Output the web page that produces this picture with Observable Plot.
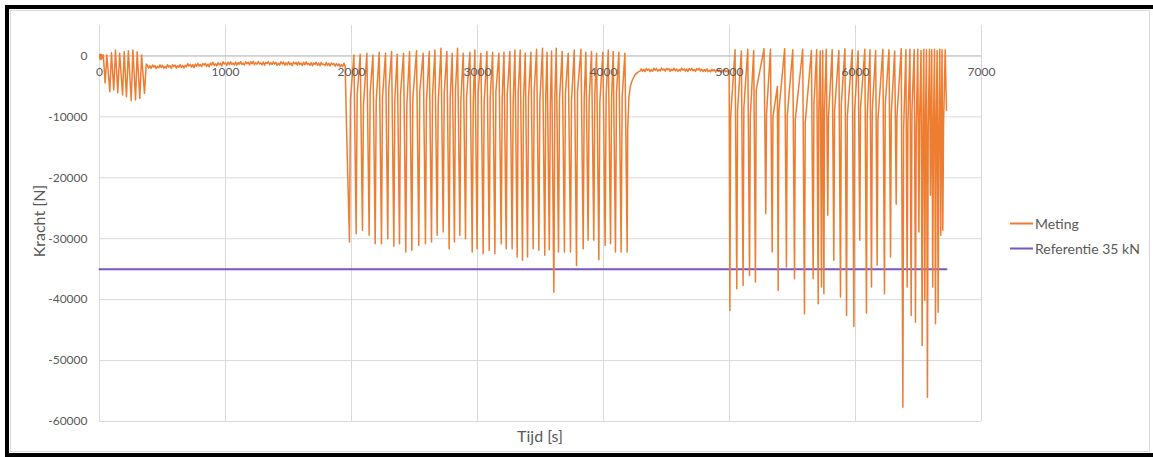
<!DOCTYPE html>
<html>
<head>
<meta charset="utf-8">
<script src="https://cdn.jsdelivr.net/npm/d3@7"></script>
<script src="https://cdn.jsdelivr.net/npm/@observablehq/plot@0.6"></script>
<style>
  html, body { margin: 0; padding: 0; background: #fff; }
  #frame { position: relative; width: 1153px; height: 457px; overflow: hidden; background: #fff;
           font-family: Lato, "Open Sans", sans-serif; color: #595959; }
  .edge { position: absolute; background: #000; }
  #area { position: absolute; left: 10px; top: 10px; width: 1140px; height: 442px;
          border: 1px solid #d9d9d9; box-sizing: border-box; }
  #chart { position: absolute; left: 0; top: 0; }
  .axis-title { position: absolute; font-size: 16px; white-space: nowrap; transform: translate(-50%, -50%); }
  .legend-item { position: absolute; left: 1010px; font-size: 14px; white-space: nowrap; transform: translateY(-50%);
                 display: flex; align-items: center; }
  .legend-item .swatch { width: 23px; height: 2px; margin-right: 2px; }
</style>
</head>
<body>
<div id="frame">
  <div id="area"></div>
  <div class="edge" style="left:5px; top:5px; width:1148px; height:4px;"></div>
  <div class="edge" style="left:5px; top:5px; width:4px; height:452px;"></div>
  <div class="edge" style="left:5px; top:453px; width:1148px; height:4px;"></div>
</div>
<script>
// Axis ticks
const timeTicks = [0, 1000, 2000, 3000, 4000, 5000, 6000, 7000];
const forceTicks = [0, -10000, -20000, -30000, -40000, -50000, -60000];

// Reference level (35 kN compression) over the test duration
const referenceT = [0, 6722];
const referenceF = [-35000, -35000];

// Warm-up cycles, 0–370 s
const warmupT = [0, 4, 8, 12, 16, 20, 25, 30, 45, 58, 82, 95, 113, 127, 145, 160, 183, 196, 214, 229, 252, 265, 286, 299, 320, 334, 357, 371];
const warmupF = [200, -500, 300, -600, 200, -400, 100, 160, -4450, 160, -5870, 540, -5600, 990, -6030, 440, -6400, 710, -6690, 870, -7350, 990, -7240, 710, -6960, 160, -6140, -1300];

// First rest period, 10 s samples [t, F]
const restA = [
  [380,-1540],[390,-2010],[400,-1630],[410,-2060],[420,-1470],[430,-1840],[440,-1580],[450,-2080],[460,-1690],[470,-1950],
  [480,-1450],[490,-1900],[500,-1520],[510,-2030],[520,-1730],[530,-1990],[540,-1430],[550,-1860],[560,-1600],[570,-2040],
  [580,-1430],[590,-1720],[600,-1490],[610,-2000],[620,-1590],[630,-1860],[640,-1410],[650,-1910],[660,-1550],[670,-1980],
  [680,-1540],[690,-1790],[700,-1270],[710,-1650],[720,-1380],[730,-1840],[740,-1420],[750,-1920],[760,-1340],[770,-1700],
  [780,-1190],[790,-1660],[800,-1390],[810,-1770],[820,-1250],[830,-1500],[840,-1210],[850,-1720],[860,-1360],[870,-1790],
  [880,-1170],[890,-1490],[900,-1020],[910,-1570],[920,-1300],[930,-1630],[940,-1110],[950,-1450],[960,-1180],[970,-1660],
  [980,-960],[990,-1310],[1000,-1110],[1010,-1520],[1020,-1020],[1030,-1440],[1040,-940],[1050,-1380],[1060,-1180],[1070,-1490],
  [1080,-1000],[1090,-1530],[1100,-1080],[1110,-1360],[1120,-930],[1130,-1410],[1140,-1170],[1150,-1490],[1160,-950],[1170,-1280],
  [1180,-1020],[1190,-1480],[1200,-950],[1210,-1290],[1220,-860],[1230,-1430],[1240,-1090],[1250,-1360],[1260,-900],[1270,-1320],
  [1280,-1140],[1290,-1470],[1300,-990],[1310,-1520],[1320,-1050],[1330,-1240],[1340,-900],[1350,-1430],[1360,-1080],[1370,-1400],
  [1380,-970],[1390,-1350],[1400,-1050],[1410,-1540],[1420,-1190],[1430,-1490],[1440,-940],[1450,-1320],[1460,-1010],[1470,-1510],
  [1480,-1120],[1490,-1470],[1500,-940],[1510,-1420],[1520,-1170],[1530,-1580],[1540,-1010],[1550,-1310],[1560,-1060],[1570,-1500],
  [1580,-1000],[1590,-1420],[1600,-1170],[1610,-1560],[1620,-1040],[1630,-1470],[1640,-950],[1650,-1380],[1660,-1220],[1670,-1530],
  [1680,-1090],[1690,-1620],[1700,-1140],[1710,-1380],[1720,-1020],[1730,-1540],[1740,-1180],[1750,-1600],[1760,-1050],[1770,-1430],
  [1780,-1340],[1790,-1580],[1800,-1070],[1810,-1560],[1820,-1200],[1830,-1640],[1840,-1150],[1850,-1420],[1860,-1230],[1870,-1680],
  [1880,-1240],[1890,-1600],[1900,-1300],[1910,-1780],[1920,-1410],[1930,-1730],[1940,-1190],[1950,-1660]
];

// First loading block, one row per cycle: [tPeak, FPeak, tMin, FMin, tKnee, FKnee]
const loadA = [
  [1962,-13000,1984,-30540,1992,-7000],
  [2019,164,2037,-29170,2045,-6500],
  [2069,300,2087,-28620,2095,-8000],
  [2122,440,2140,-29440,2148,-6000],
  [2170,164,2188,-30810,2196,-7500],
  [2220,600,2238,-30810,2246,-6800],
  [2270,440,2288,-29990,2296,-5500],
  [2318,713,2336,-31250,2344,-7200],
  [2363,300,2381,-30810,2389,-6300],
  [2413,440,2431,-32180,2439,-8200],
  [2461,713,2479,-31910,2487,-6900],
  [2516,850,2534,-31090,2542,-5800],
  [2569,440,2587,-30810,2595,-7400],
  [2617,713,2635,-30540,2643,-6600],
  [2662,987,2680,-29440,2688,-7800],
  [2710,1260,2728,-28890,2736,-6100],
  [2757,713,2775,-31630,2783,-7000],
  [2799,440,2817,-30540,2825,-5600],
  [2842,1260,2860,-29440,2868,-7300],
  [2887,440,2905,-29990,2913,-6700],
  [2940,600,2958,-32180,2966,-8100],
  [2979,987,2997,-31630,3005,-6200],
  [3027,440,3045,-32460,3053,-7600],
  [3075,713,3093,-31910,3101,-6900],
  [3120,600,3138,-32460,3146,-5900],
  [3170,440,3188,-30810,3196,-7100],
  [3210,600,3228,-31630,3236,-6400],
  [3257,713,3275,-31630,3283,-7700],
  [3297,987,3315,-33000,3323,-6000],
  [3339,987,3357,-33550,3365,-7200],
  [3379,440,3397,-33000,3405,-6800],
  [3424,600,3442,-31630,3450,-5700],
  [3469,1100,3487,-31910,3495,-7500],
  [3516,1260,3534,-32730,3542,-6300],
  [3552,600,3570,-31800,3578,-7900],
  [3588,800,3606,-38800,3614,-6600],
  [3625,1260,3643,-32180,3651,-7000],
  [3672,713,3690,-32180,3698,-6100],
  [3720,440,3738,-32180,3746,-7400],
  [3768,987,3786,-34380,3794,-5800],
  [3821,1100,3839,-31630,3847,-6900],
  [3860,600,3878,-30260,3886,-7300],
  [3905,713,3923,-30260,3931,-6200],
  [3945,440,3963,-33440,3971,-7600],
  [3995,600,4013,-31090,4021,-6500],
  [4038,987,4056,-30810,4064,-7100],
  [4077,713,4095,-32180,4103,-6000],
  [4122,600,4140,-32180,4148,-6800],
  [4170,440,4188,-32180,4192,-12000]
];

// Recovery and second rest period [t, F]
const restB = [
  [4202,-6700],[4215,-4800],[4230,-3900],[4250,-3100],[4270,-2700],[4290,-2500],
  [4300,-2120],[4310,-2530],[4320,-2210],[4330,-2570],[4340,-2050],[4350,-2360],[4360,-2150],[4370,-2580],[4380,-2260],[4390,-2490],
  [4400,-1990],[4410,-2380],[4420,-2050],[4430,-2500],[4440,-2240],[4450,-2460],[4460,-1970],[4470,-2340],[4480,-2130],[4490,-2510],
  [4500,-2030],[4510,-2280],[4520,-2090],[4530,-2530],[4540,-2180],[4550,-2400],[4560,-2010],[4570,-2450],[4580,-2140],[4590,-2520],
  [4600,-2240],[4610,-2450],[4620,-2000],[4630,-2330],[4640,-2100],[4650,-2500],[4660,-2130],[4670,-2560],[4680,-2060],[4690,-2370],
  [4700,-2030],[4710,-2430],[4720,-2210],[4730,-2530],[4740,-2080],[4750,-2290],[4760,-2040],[4770,-2490],[4780,-2180],[4790,-2550],
  [4800,-2230],[4810,-2500],[4820,-2100],[4830,-2570],[4840,-2340],[4850,-2620],[4860,-2170],[4870,-2460],[4880,-2240],[4890,-2650],
  [4900,-2230],[4910,-2530],[4920,-2360],[4930,-2710],[4940,-2280],[4950,-2640],[4960,-2210],[4970,-2590],[4980,-2420],[4990,-2680]
];

// Second loading block: [tPeak, FPeak, tMin, FMin, tKnee, FKnee]
const loadB = [
  [4997,-2300,5003,-41780,5009,-10000],
  [5044,1000,5058,-38210,5064,-9000],
  [5094,800,5108,-37660,5114,-8500],
  [5145,1100,5159,-36020,5165,-10000],
  [5192,900,5206,-37120,5212,-5600],
  [5274,1200,5288,-25880,5294,-9500],
  [5325,1100,5339,-32180,5345,-10000],
  [5380,-5000,5386,-38490,5392,-9000],
  [5438,1200,5452,-34650,5458,-10000],
  [5502,1000,5516,-36570,5522,-10500],
  [5581,1100,5595,-42320,5601,-11000],
  [5650,900,5664,-36570,5670,-8000],
  [5692,1000,5704,-40680,5709,-9000],
  [5720,800,5730,-37940,5735,-10000],
  [5740,900,5749,-39040,5754,-9000],
  [5768,1100,5780,-26150,5786,-10000],
  [5815,1000,5828,-33550,5834,-9000],
  [5868,900,5881,-39580,5887,-8000],
  [5916,1200,5929,-42600,5935,-10000],
  [5974,1000,5987,-44410,5993,-9000],
  [6021,800,6034,-30260,6040,-8500],
  [6074,1100,6087,-42210,6093,-10000],
  [6115,1000,6127,-37940,6133,-9000],
  [6160,900,6172,-34300,6178,-10500],
  [6217,1100,6230,-39030,6236,-8000],
  [6266,1000,6278,-33000,6284,-9500],
  [6311,800,6323,-24340,6329,-10000],
  [6363,1200,6376,-57680,6382,-12000],
  [6400,1000,6410,-37940,6416,-11000],
  [6432,1100,6442,-42600,6448,-9000],
  [6466,1000,6476,-43700,6482,-12000],
  [6494,1100,6503,-28890,6509,-10000],
  [6520,900,6529,-47530,6535,-11000],
  [6542,1100,6550,-40130,6556,-9500],
  [6563,1000,6571,-56030,6577,-12000],
  [6587,1100,6595,-22860,6601,-9000],
  [6605,1000,6613,-37940,6619,-11000],
  [6627,1100,6635,-43970,6641,-10000],
  [6648,900,6656,-42050,6662,-12000],
  [6669,1100,6677,-29440,6682,-10000],
  [6687,1000,6693,-28620,6699,-11000]
];

// Last samples [t, F]
const tail = [[6712,1000],[6722,-8900]];

// Assemble the measurement as one time-ordered series
const meting = [];
warmupT.forEach((t, i) => meting.push({t, f: warmupF[i]}));
for (const [t, f] of restA) meting.push({t, f});
for (const [tp, fp, tm, fm, tk, fk] of loadA) meting.push({t: tp, f: fp}, {t: tm, f: fm}, {t: tk, f: fk});
for (const [t, f] of restB) meting.push({t, f});
for (const [tp, fp, tm, fm, tk, fk] of loadB) meting.push({t: tp, f: fp}, {t: tm, f: fm}, {t: tk, f: fk});
for (const [t, f] of tail) meting.push({t, f});

const referentie = referenceT.map((t, i) => ({t, f: referenceF[i]}));

const orange = "#ED7D31";
const purple = "#7B55C6";
const grid = "#d9d9d9";
const ink = "#595959";

const chart = Plot.plot({
  width: 1153,
  height: 457,
  marginLeft: 99,
  marginRight: 172,
  marginTop: 25,
  marginBottom: 36,
  style: {background: "transparent", fontFamily: "Lato, 'Open Sans', sans-serif", fontSize: "12px", color: ink, overflow: "visible"},
  x: {domain: [0, 7000], axis: null},
  y: {domain: [-60000, 5000], axis: null},
  marks: [
    Plot.gridX(timeTicks, {stroke: grid, strokeOpacity: 1}),
    Plot.gridY(forceTicks, {stroke: grid, strokeOpacity: 1}),
    Plot.axisY(forceTicks, {anchor: "left", tickSize: 0, tickPadding: 12, tickFormat: d => String(d), label: null, fill: ink}),
    Plot.ruleY([0], {stroke: "#bfbfbf", strokeWidth: 1}),
    Plot.line(referentie, {x: "t", y: "f", stroke: purple, strokeWidth: 2}),
    Plot.line(meting, {x: "t", y: "f", stroke: orange, strokeWidth: 1.5}),
    Plot.text(timeTicks, {x: d => d, y: 0, dy: 16, text: d => String(d), fill: ink, fontSize: 12})
  ]
});
chart.id = "chart";

const frame = document.getElementById("frame");
frame.insertBefore(chart, frame.children[1]);

// Axis titles
const yTitle = document.createElement("div");
yTitle.className = "axis-title";
yTitle.style.left = "38px";
yTitle.style.top = "221px";
yTitle.style.transform = "translate(-50%, -50%) rotate(-90deg)";
yTitle.textContent = "Kracht [N]";
frame.appendChild(yTitle);

const xTitle = document.createElement("div");
xTitle.className = "axis-title";
xTitle.style.left = "540px";
xTitle.style.top = "435px";
xTitle.textContent = "Tijd [s]";
frame.appendChild(xTitle);

// Legend
const legendEntries = [
  {name: "Meting", color: orange, top: 223},
  {name: "Referentie 35 kN", color: purple, top: 248}
];
for (const e of legendEntries) {
  const item = document.createElement("div");
  item.className = "legend-item";
  item.style.top = e.top + "px";
  const sw = document.createElement("span");
  sw.className = "swatch";
  sw.style.background = e.color;
  const label = document.createElement("span");
  label.textContent = e.name;
  item.appendChild(sw);
  item.appendChild(label);
  frame.appendChild(item);
}
</script>
</body>
</html>
